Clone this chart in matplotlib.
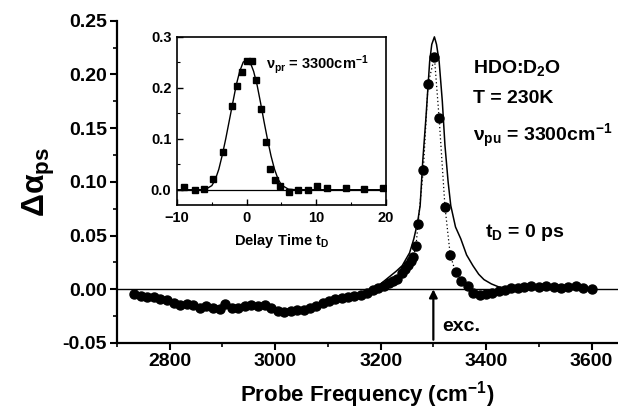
import matplotlib
matplotlib.use("Agg")
import matplotlib.pyplot as plt
from matplotlib.ticker import MultipleLocator

plt.rcParams['font.family'] = ['Liberation Sans', 'DejaVu Sans']
plt.rcParams['font.weight'] = 'bold'
plt.rcParams['mathtext.fontset'] = 'custom'
plt.rcParams['mathtext.rm'] = 'Liberation Sans:bold'
plt.rcParams['mathtext.it'] = 'Liberation Sans:bold'
plt.rcParams['mathtext.bf'] = 'Liberation Sans:bold'

# ---- main spectrum: circles (t_D = 0 ps) ----
freq_pts = [2733, 2745, 2757, 2770, 2782, 2795, 2808, 2820, 2833, 2845, 2857, 2870,
            2882, 2895, 2905, 2918, 2930, 2943, 2955, 2968, 2980, 2992, 3005, 3017,
            3030, 3042, 3054, 3066, 3078, 3090, 3102, 3114, 3126, 3138, 3150, 3162,
            3174, 3186, 3196, 3206, 3215, 3224, 3232, 3240, 3246, 3252, 3257, 3262,
            3267, 3271, 3281, 3290, 3302, 3311, 3322, 3332, 3342, 3352, 3365, 3376,
            3388, 3400, 3412, 3424, 3436, 3448, 3460, 3472, 3486, 3500, 3514, 3528,
            3542, 3556, 3570, 3584, 3600]
alpha_pts = [-0.004, -0.006, -0.007, -0.007, -0.009, -0.010, -0.013, -0.015, -0.014, -0.015,
             -0.017, -0.016, -0.017, -0.018, -0.014, -0.017, -0.017, -0.016, -0.015, -0.016,
             -0.015, -0.017, -0.020, -0.021, -0.020, -0.019, -0.019, -0.017, -0.016, -0.013,
             -0.011, -0.009, -0.008, -0.007, -0.006, -0.005, -0.003, -0.001, 0.001, 0.003,
             0.006, 0.008, 0.010, 0.015, 0.019, 0.023, 0.026, 0.030, 0.040, 0.061,
             0.111, 0.191, 0.216, 0.159, 0.077, 0.032, 0.016, 0.008, 0.003, -0.003,
             -0.005, -0.004, -0.003, -0.002, -0.001, 0.001, 0.001, 0.002, 0.003, 0.002,
             0.003, 0.002, 0.001, 0.002, 0.003, 0.001, 0.000]

# ---- main spectrum: solid line ----
freq_line = [2733, 2800, 2850, 2900, 2950, 3000, 3050, 3100, 3150, 3190, 3200, 3215,
             3230, 3241, 3255, 3263, 3270, 3275, 3280, 3286, 3293, 3297, 3302, 3306,
             3311, 3317, 3322, 3328, 3333, 3342, 3352, 3363, 3375, 3386, 3396, 3410,
             3425, 3440, 3500, 3550, 3600]
alpha_line = [-0.004, -0.011, -0.015, -0.016, -0.016, -0.019, -0.018, -0.012, -0.006, 0.002,
              0.005, 0.011, 0.017, 0.022, 0.034, 0.047, 0.062, 0.078, 0.120, 0.160,
              0.212, 0.228, 0.235, 0.228, 0.212, 0.175, 0.134, 0.100, 0.078, 0.058,
              0.047, 0.032, 0.022, 0.014, 0.009, 0.005, 0.002, 0.001, 0.002, 0.002, 0.001]

# ---- inset: delay time scan ----
t_pts = [-9.0, -7.4, -6.1, -4.8, -3.45, -2.06, -1.35, -0.63, 0.0, 0.72, 1.33, 2.0,
         2.73, 3.34, 4.06, 4.78, 6.1, 7.4, 8.75, 10.1, 11.5, 14.2, 16.9, 19.6]
sig_pts = [0.005, 0.0, 0.001, 0.021, 0.074, 0.164, 0.203, 0.230, 0.253, 0.253, 0.215, 0.159,
           0.093, 0.041, 0.020, 0.007, -0.005, 0.0, 0.0, 0.008, 0.003, 0.003, 0.001, 0.003]
t_fit = [-10, -6, -5, -4.5, -4, -3.5, -3, -2.5, -2, -1.5, -1, -0.5, 0, 0.5, 1, 1.5, 2,
         2.5, 3, 3.5, 4, 4.5, 5, 6, 7, 20]
sig_fit = [0.0, 0.0, 0.008, 0.020, 0.040, 0.068, 0.100, 0.135, 0.170, 0.205, 0.232, 0.250,
           0.256, 0.250, 0.232, 0.205, 0.170, 0.133, 0.098, 0.066, 0.040, 0.021, 0.009,
           0.001, 0.0, 0.0]

fig = plt.figure(figsize=(6.18, 4.15), dpi=100)
ax = fig.add_axes([0.189, 0.1735, 0.811, 0.7765])

ax.axhline(0, color='black', lw=1.0, zorder=1)
ax.plot(freq_line, alpha_line, '-', color='black', lw=1.1, zorder=2)
ax.plot(freq_pts, alpha_pts, linestyle=(0, (1, 2)), color='black', lw=0.9,
        marker='o', ms=6.5, mfc='black', mec='black', zorder=3)

ax.set_xlim(2700, 3650)
ax.set_ylim(-0.05, 0.25)
ax.xaxis.set_major_locator(MultipleLocator(200))
ax.xaxis.set_minor_locator(MultipleLocator(100))
ax.yaxis.set_major_locator(MultipleLocator(0.05))
ax.yaxis.set_minor_locator(MultipleLocator(0.025))
ax.yaxis.set_major_formatter(matplotlib.ticker.FormatStrFormatter('%.2f'))
for s in ['top', 'right']:
    ax.spines[s].set_visible(False)
for s in ['left', 'bottom']:
    ax.spines[s].set_linewidth(1.6)
ax.tick_params(which='major', direction='out', length=5, width=1.5, labelsize=14, pad=2)
ax.tick_params(which='minor', direction='out', length=3, width=1.2)
for lab in ax.get_xticklabels() + ax.get_yticklabels():
    lab.set_fontweight('bold')

ax.set_xlabel(r'Probe Frequency (cm$^{-1}$)', fontsize=16, fontweight='bold', labelpad=7)
ax.set_ylabel(r'$\Delta\alpha_{ps}$', fontsize=23, labelpad=4)

ax.annotate('', xy=(3300, 0.0), xytext=(3300, -0.047),
            arrowprops=dict(arrowstyle='-|>', color='black', lw=1.6, mutation_scale=12,
                            shrinkA=0, shrinkB=0))
ax.text(3316, -0.035, 'exc.', fontsize=14, fontweight='bold', va='center', ha='left')

ax.text(3375, 0.206, r'HDO:D$_2$O', fontsize=14, fontweight='bold', va='center')
ax.text(3375, 0.178, 'T = 230K', fontsize=14, fontweight='bold', va='center')
ax.text(3375, 0.143, r'$\nu_{pu}$ = 3300cm$^{-1}$', fontsize=14, fontweight='bold', va='center')
ax.text(3397, 0.053, r't$_D$ = 0 ps', fontsize=14, fontweight='bold', va='center')

# ---- inset ----
ins = fig.add_axes([0.2864, 0.506, 0.3382, 0.4056])
ins.axhline(0, color='black', lw=0.9, zorder=1)
ins.plot(t_fit, sig_fit, '-', color='black', lw=1.0, zorder=2)
ins.plot(t_pts, sig_pts, 's', ms=4.3, color='black', zorder=3)
ins.set_xlim(-10, 20)
ins.set_ylim(-0.03, 0.3)
ins.xaxis.set_major_locator(MultipleLocator(10))
ins.xaxis.set_minor_locator(MultipleLocator(5))
ins.yaxis.set_major_locator(MultipleLocator(0.1))
ins.yaxis.set_minor_locator(MultipleLocator(0.05))
for s in ins.spines.values():
    s.set_linewidth(1.2)
ins.tick_params(which='major', direction='in', length=4, width=1.0, labelsize=10.5, pad=4)
ins.tick_params(which='minor', direction='in', length=2.5, width=0.8)
for lab in ins.get_xticklabels() + ins.get_yticklabels():
    lab.set_fontweight('bold')
ins.set_xlabel(r'Delay Time t$_D$', fontsize=10.5, fontweight='bold', labelpad=5)
ins.text(2.8, 0.245, r'$\nu_{pr}$ = 3300cm$^{-1}$', fontsize=10.5, fontweight='bold', va='center')

fig.savefig('out.png', dpi=100)
